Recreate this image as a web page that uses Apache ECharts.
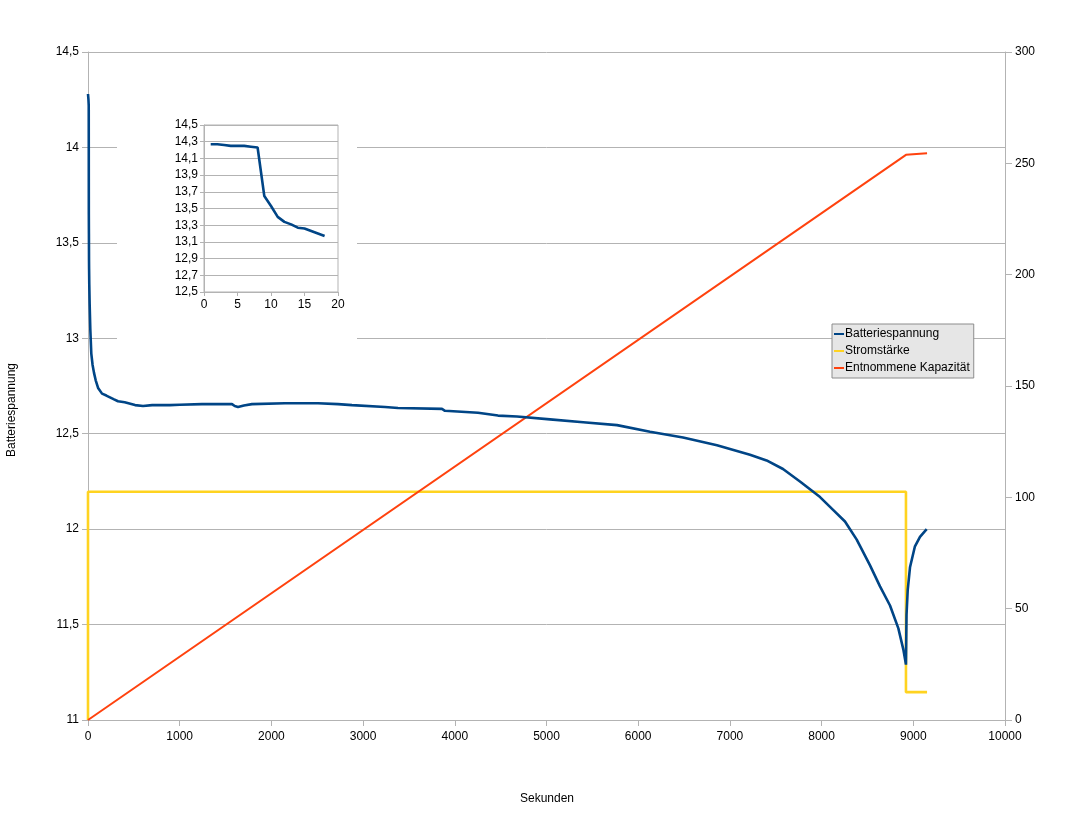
<!DOCTYPE html>
<html>
<head>
<meta charset="utf-8">
<script src="https://cdn.jsdelivr.net/npm/echarts@6/dist/echarts.min.js"></script>
<style>html,body{margin:0;padding:0;background:#fff}#c{width:1075px;height:814px}</style>
</head>
<body>
<div id="c"></div>
<script>
// Main chart data (seconds, value)
const voltage = [[0,14.28],[5,14.25],[8,14.22],[9,13.65],[10,13.55],[11,13.41],[12,13.36],[14,13.28],[18,13.18],[25,13.05],[36,12.92],[50,12.86],[65,12.82],[84,12.78],[110,12.74],[153,12.71],[200,12.70],[284,12.68],[327,12.67],[400,12.665],[513,12.65],[600,12.645],[700,12.65],[894,12.65],[1000,12.652],[1243,12.655],[1570,12.655],[1600,12.645],[1636,12.64],[1700,12.648],[1788,12.655],[2148,12.66],[2508,12.66],[2726,12.655],[2879,12.65],[3239,12.64],[3381,12.635],[3400,12.63],[3860,12.63],[3893,12.62],[4253,12.61],[4471,12.595],[4678,12.59],[5038,12.575],[5400,12.56],[5769,12.545],[6129,12.51],[6489,12.48],[6859,12.44],[7219,12.39],[7400,12.36],[7579,12.315],[7764,12.25],[7983,12.168],[8128,12.10],[8255,12.04],[8383,11.945],[8528,11.81],[8637,11.70],[8746,11.60],[8837,11.48],[8891,11.37],[8920,11.29],[8926,11.55],[8939,11.68],[8964,11.80],[9018,11.91],[9073,11.96],[9146,12.00]];
const current = [[0,0],[0,102.5],[8920,102.5],[8920,12.5],[9150,12.5]];
const capacity = [[0,0],[8920,253.8],[9150,254.5]];
// Inset data (seconds, volts)
const insetVoltage = [[1,14.27],[2,14.27],[3,14.26],[4,14.25],[5,14.25],[6,14.25],[7,14.24],[8,14.23],[9,13.65],[10,13.53],[11,13.40],[12,13.34],[13,13.31],[14,13.27],[15,13.26],[16,13.23],[17,13.20],[18,13.17]];
const seriesNames = ['Batteriespannung','Stromstärke','Entnommene Kapazität'];

const FONT = 'Liberation Sans, Arial, sans-serif';
const grey = '#b3b3b3';
const fmt = v => String(+(+v).toFixed(1)).replace('.', ',');
const fmt1 = v => (+v).toFixed(1).replace('.', ',');
const fmtInt = v => String(Math.round(v));
const lbl = {color:'#000', fontFamily:FONT, fontSize:12};

const chart = echarts.init(document.getElementById('c'));
chart.setOption({
  animation:false,
  backgroundColor:'#fff',
  legend:{
    orient:'vertical', left:832, top:324, data:seriesNames,
    backgroundColor:'#e6e6e6', borderColor:'#8c8c8c', borderWidth:1,
    padding:[3,4,3,2], itemWidth:10, itemHeight:2, itemGap:3, icon:'rect',
    textStyle:{color:'#000', fontFamily:FONT, fontSize:12, lineHeight:14, padding:[0,0,0,-4]}
  },
  graphic:[
    {type:'rect', z:1, shape:{x:117, y:105, width:240, height:241}, style:{fill:'#fff'}},
    {type:'text', z:5, x:547, y:799, style:{text:'Sekunden', fill:'#000', font:'12px '+FONT, textAlign:'center', textVerticalAlign:'middle'}},
    {type:'text', z:5, x:12, y:410, rotation:Math.PI/2, style:{text:'Batteriespannung', fill:'#000', font:'12px '+FONT, textAlign:'center', textVerticalAlign:'middle'}}
  ],
  grid:[
    {left:88, right:70, top:52, bottom:94},
    {left:204, width:134, top:125, height:167, show:true, borderColor:grey, borderWidth:1, backgroundColor:'transparent', z:3}
  ],
  xAxis:[
    {type:'value', gridIndex:0, min:0, max:10000, interval:1000,
     axisLine:{show:true, lineStyle:{color:grey}}, axisTick:{show:true, length:6, lineStyle:{color:grey}},
     axisLabel:{...lbl, margin:11, formatter:fmtInt}, splitLine:{show:false}},
    {type:'value', gridIndex:1, min:0, max:20, interval:5, z:3,
     axisLine:{show:true, lineStyle:{color:grey}}, axisTick:{show:true, length:4, lineStyle:{color:grey}},
     axisLabel:{...lbl, margin:7, formatter:fmtInt}, splitLine:{show:false}}
  ],
  yAxis:[
    {type:'value', gridIndex:0, min:11, max:14.5, interval:0.5, position:'left',
     axisLine:{show:true, lineStyle:{color:grey}}, axisTick:{show:true, length:6, lineStyle:{color:grey}},
     axisLabel:{...lbl, margin:9, formatter:fmt}, splitLine:{show:true, lineStyle:{color:grey, width:1}}},
    {type:'value', gridIndex:0, min:0, max:300, interval:50, position:'right',
     axisLine:{show:true, lineStyle:{color:grey}}, axisTick:{show:true, length:7, lineStyle:{color:grey}},
     axisLabel:{...lbl, margin:10, formatter:fmtInt}, splitLine:{show:false}},
    {type:'value', gridIndex:1, min:12.5, max:14.5, interval:0.2, z:3,
     axisLine:{show:true, lineStyle:{color:grey}}, axisTick:{show:true, length:4, lineStyle:{color:grey}},
     axisLabel:{...lbl, margin:6, formatter:fmt1}, splitLine:{show:true, lineStyle:{color:grey, width:1}}}
  ],
  series:[
    {name:seriesNames[0], type:'line', xAxisIndex:0, yAxisIndex:0, data:voltage, showSymbol:false, symbol:'none', z:4,
     lineStyle:{color:'#004586', width:2.6}, itemStyle:{color:'#004586'}},
    {name:seriesNames[1], type:'line', xAxisIndex:0, yAxisIndex:1, data:current, showSymbol:false, symbol:'none', z:3,
     lineStyle:{color:'#ffd320', width:2.6}, itemStyle:{color:'#ffd320'}},
    {name:seriesNames[2], type:'line', xAxisIndex:0, yAxisIndex:1, data:capacity, showSymbol:false, symbol:'none', z:3,
     lineStyle:{color:'#ff420e', width:2}, itemStyle:{color:'#ff420e'}},
    {name:'inset', type:'line', xAxisIndex:1, yAxisIndex:2, data:insetVoltage, showSymbol:false, symbol:'none', z:6,
     lineStyle:{color:'#004586', width:2.6}}
  ]
});
</script>
</body>
</html>
